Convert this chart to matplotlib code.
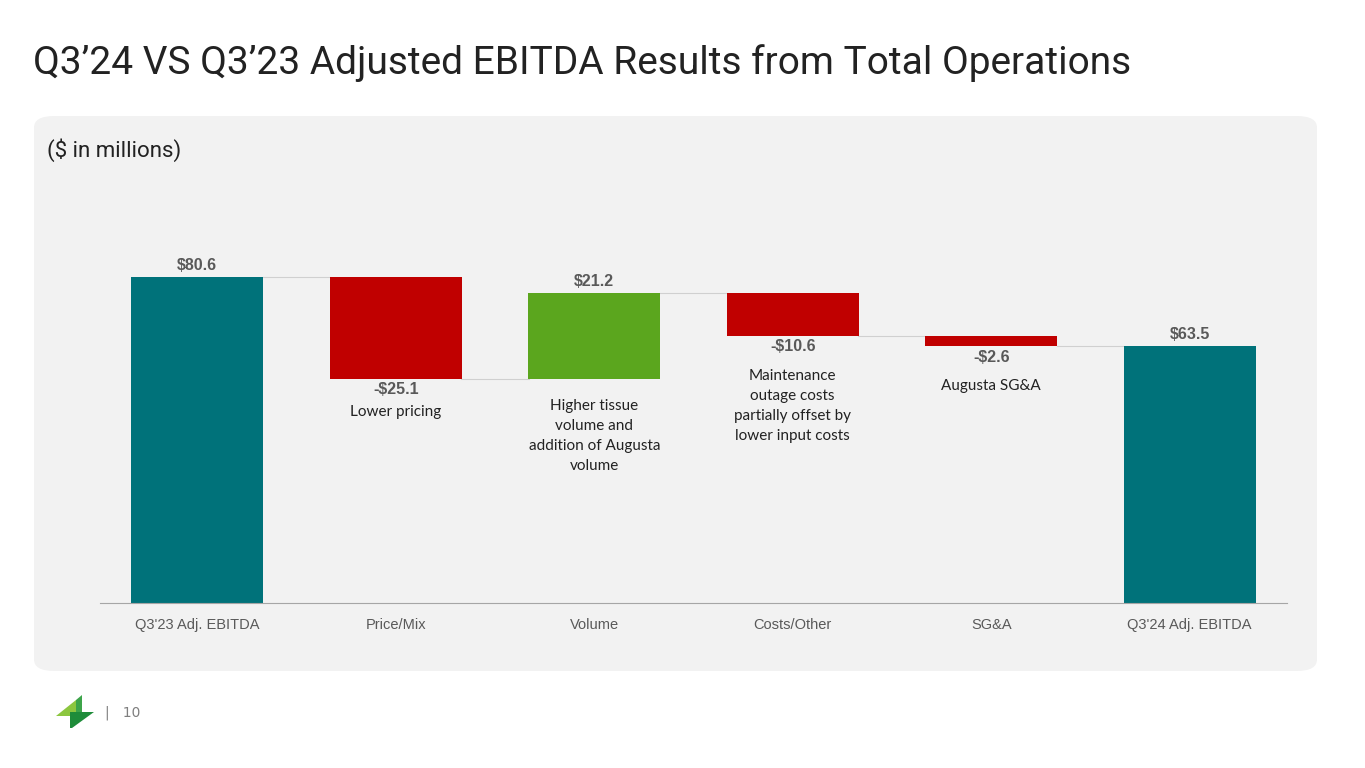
import matplotlib.pyplot as plt
from matplotlib.patches import FancyBboxPatch, Polygon

categories = ["Q3'23 Adj. EBITDA", "Price/Mix", "Volume", "Costs/Other", "SG&A", "Q3'24 Adj. EBITDA"]
values = [80.6, -25.1, 21.2, -10.6, -2.6, 63.5]
kinds = ["total", "delta", "delta", "delta", "delta", "total"]
value_labels = ["$80.6", "-$25.1", "$21.2", "-$10.6", "-$2.6", "$63.5"]
notes = ["", "Lower pricing", "Higher tissue\nvolume and\naddition of Augusta\nvolume",
         "Maintenance\noutage costs\npartially offset by\nlower input costs", "Augusta SG&A", ""]
note_gap = [0, 6.5, 5.0, 8.2, 8.2, 0]  # distance below bar bottom, data units

TEAL = "#00727A"
RED = "#C00000"
GREEN = "#5BA61E"
LABEL = "#595959"

fig = plt.figure(figsize=(13.65, 7.68), dpi=100)
W, H = 1365, 768

# panel background
panel = FancyBboxPatch((34 / W, 1 - 671 / H), (1317 - 34) / W, (671 - 116) / H,
                       boxstyle="round,pad=0,rounding_size=0.015", transform=fig.transFigure,
                       facecolor="#F2F2F2", edgecolor="none", zorder=-5)
fig.patches.append(panel)

fig.text(33 / W, 1 - 63 / H, "Q3\u201924 VS Q3\u201923 Adjusted EBITDA Results from Total Operations",
         fontsize=28, family="Roboto", color="#222222", va="center")
fig.text(47 / W, 1 - 150 / H, "($ in millions)", fontsize=16, family="Roboto",
         color="#222222", va="center")

ax = fig.add_axes([100 / W, 1 - 603 / H, (1287 - 100) / W, (603 - 200) / H])
ax.set_zorder(2)
ax.set_facecolor("none")
ax.set_xlim(-0.49, 5.49)
ax.set_ylim(0, 403 / 4.045)

running = 0
bars = []
for i, (v, k) in enumerate(zip(values, kinds)):
    if k == "total":
        bottom, top, c = 0, v, TEAL
        running = v
    else:
        start = running
        running = running + v
        bottom, top = min(start, running), max(start, running)
        c = RED if v < 0 else GREEN
    ax.bar(i, top - bottom, bottom=bottom, width=0.665, color=c, zorder=2)
    bars.append((bottom, top))

# connectors
running = 0
levels = []
for v, k in zip(values, kinds):
    running = v if k == "total" else running + v
    levels.append(running)
for i in range(len(values) - 1):
    ax.plot([i + 0.33, i + 1 - 0.33], [levels[i], levels[i]], color="#D0D0D0", lw=0.8, zorder=1)

for i, v in enumerate(values):
    bottom, top = bars[i]
    if v >= 0:
        ax.text(i, top + 1.0, value_labels[i], ha="center", va="bottom", family="Liberation Sans",
                fontsize=11.5, fontweight="bold", color=LABEL)
    else:
        ax.text(i, bottom - 0.9, value_labels[i], ha="center", va="top", family="Liberation Sans",
                fontsize=11.5, fontweight="bold", color=LABEL)
    if notes[i]:
        ax.text(i, bottom - note_gap[i], notes[i], ha="center", va="top", fontsize=11,
                family="Lato", color="#222222", linespacing=1.55)

ax.set_xticks(range(len(categories)))
ax.set_xticklabels(categories, fontsize=10.5, color=LABEL, family="Liberation Sans")
ax.tick_params(axis="x", length=0, pad=11)
ax.set_yticks([])
for s in ["top", "left", "right"]:
    ax.spines[s].set_visible(False)
ax.spines["bottom"].set_color("#A6A6A6")

# footer logo
def px(x, y):
    return (x / W, 1 - y / H)

fig.patches.append(Polygon([px(56, 716), px(76, 700), px(76, 716)], closed=True,
                           transform=fig.transFigure, facecolor="#8CC63F", edgecolor="none"))
fig.patches.append(Polygon([px(76, 700), px(82, 695), px(82, 716), px(76, 716)], closed=True,
                           transform=fig.transFigure, facecolor="#3DA44A", edgecolor="none"))
fig.patches.append(Polygon([px(70, 712), px(94, 712), px(72, 728), px(70, 728)], closed=True,
                           transform=fig.transFigure, facecolor="#1E8C3A", edgecolor="none"))
fig.text(105 / W, 1 - 713 / H, "|   10", fontsize=10, color="#7F7F7F", va="center")

fig.savefig("out.png", dpi=100)
